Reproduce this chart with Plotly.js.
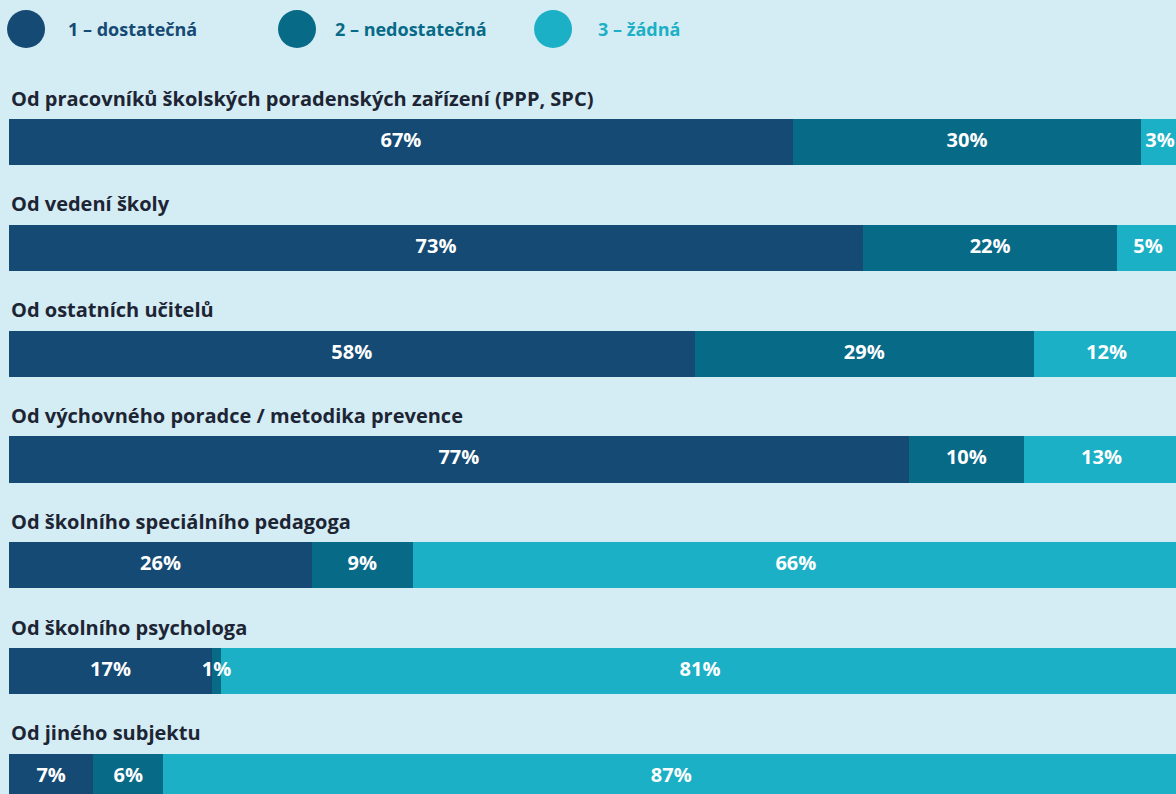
<!DOCTYPE html>
<html>
<head>
<meta charset="utf-8">
<script src="https://cdn.plot.ly/plotly-3.0.1.min.js"></script>
<style>
html,body{margin:0;padding:0;background:#d4ecf3;}
#chart{width:1176px;height:794px;}
</style>
</head>
<body>
<div id="chart"></div>
<script>
const categories = [
  "Od pracovníků školských poradenských zařízení (PPP, SPC)",
  "Od vedení školy",
  "Od ostatních učitelů",
  "Od výchovného poradce / metodika prevence",
  "Od školního speciálního pedagoga",
  "Od školního psychologa",
  "Od jiného subjektu"
];
const seriesNames = ["1 – dostatečná", "2 – nedostatečná", "3 – žádná"];
const dostatecna   = [67.0, 73.0, 58.6, 76.9, 25.9, 17.35, 7.2];
const nedostatecna = [29.75, 21.7, 29.0, 9.85, 8.6, 0.77, 6.0];
const zadna        = [3.25, 5.3, 12.4, 13.25, 65.5, 81.88, 86.8];
const labels1 = ["67%", "73%", "58%", "77%", "26%", "17%", "7%"];
const labels2 = ["30%", "22%", "29%", "10%", "9%", "1%", "6%"];
const labels3 = ["3%", "5%", "12%", "13%", "66%", "81%", "87%"];

const colors = ["#144a73", "#076a87", "#1cb0c6"];
const FONT = "'Open Sans', Roboto, sans-serif";
const yIdx = categories.map((c, i) => i);

const series = [dostatecna, nedostatecna, zadna];
const labelSets = [labels1, labels2, labels3];

const data = [];
series.forEach((vals, i) => {
  data.push({
    type: "bar", orientation: "h",
    x: vals, y: yIdx, name: seriesNames[i],
    marker: {color: colors[i], line: {width: 0}},
    hoverinfo: "skip", showlegend: false
  });
});
// text labels on top of all bars, centred on each segment
series.forEach((vals, i) => {
  const mids = vals.map((v, k) => {
    let base = 0;
    for (let j = 0; j < i; j++) base += series[j][k];
    return base + v / 2;
  });
  data.push({
    type: "scatter", mode: "text", x: mids, y: yIdx,
    text: labelSets[i], textposition: "middle center", cliponaxis: false,
    textfont: {family: FONT, size: 20, color: "#ffffff", weight: 700},
    hoverinfo: "skip", showlegend: false
  });
});

const annotations = categories.map((c, i) => ({
  text: c, xref: "paper", x: 0, xanchor: "left",
  yref: "y", y: i, yanchor: "middle", yshift: 44,
  showarrow: false,
  font: {family: FONT, size: 20, color: "#1d2535", weight: 700}
}));

const legendX = [0.0146, 0.2468, 0.4662];
const legendTextX = [0.0488, 0.2776, 0.503];
const shapes = [];
seriesNames.forEach((n, i) => {
  shapes.push({
    type: "circle", xref: "paper", yref: "paper", xsizemode: "pixel", ysizemode: "pixel",
    xanchor: legendX[i], yanchor: 1.0422, x0: -19, x1: 19, y0: -19, y1: 19,
    fillcolor: colors[i], line: {width: 0}
  });
  annotations.push({
    text: n, xref: "paper", yref: "paper", x: legendTextX[i], y: 1.0422,
    xanchor: "left", yanchor: "middle", showarrow: false,
    font: {family: FONT, size: 18, color: colors[i], weight: 700}
  });
});

const layout = {
  width: 1176, height: 794,
  margin: {l: 9, r: 0, t: 60, b: 0, pad: 0},
  paper_bgcolor: "#d4ecf3", plot_bgcolor: "#d4ecf3",
  barmode: "stack", bargap: 0.565,
  showlegend: false,
  xaxis: {range: [0, 99.74], visible: false, fixedrange: true},
  yaxis: {range: [6.161, -0.775], visible: false, fixedrange: true},
  annotations: annotations, shapes: shapes
};
Plotly.newPlot("chart", data, layout, {displayModeBar: false, staticPlot: true});
</script>
</body>
</html>
